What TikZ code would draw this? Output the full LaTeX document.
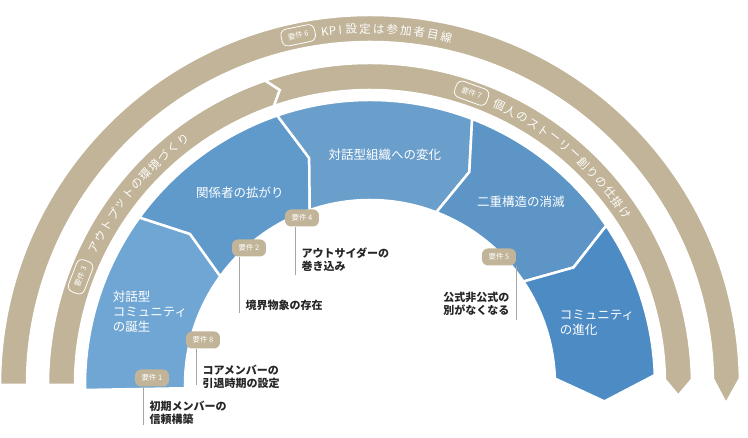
\documentclass[tikz,border=0pt]{standalone}
\usepackage{fontspec}
\setmainfont{Noto Sans CJK JP}
\definecolor{tan}{HTML}{C1B498}
\definecolor{blueA}{HTML}{6FA6D3}
\definecolor{blueB}{HTML}{5F9ACB}
\definecolor{blueC}{HTML}{6A9FCC}
\definecolor{blueD}{HTML}{5C95C6}
\definecolor{blueE}{HTML}{4D8BC4}
% ring piece: #1 colour, #2/#3 inner/outer radius, #4 start angle, #5 start tip, #6 end angle, #7 end tip
\newcommand{\ringpiece}[7]{%
  \pgfmathsetmacro{\rmid}{(#2+#3)/2}
  \fill[#1, draw=white, line width=2.5pt, line join=miter]
    (#4:#3) arc (#4:#6:#3) -- (#7:\rmid) -- (#6:#2) arc (#6:#4:#2) -- (#5:\rmid) -- cycle;}
% text along a band: #1 radius, #2 start angle, #3 step, #4 characters
\newcommand{\bandlabel}[4]{%
  \foreach \ch [count=\i from 0] in {#4}{
    \pgfmathsetmacro{\ang}{#2-\i*#3}
    \node[bandchar, rotate=\ang-90] at (\ang:#1) {\ch};
  }}
\begin{document}
\begin{tikzpicture}[x=1pt, y=1pt]
  \tikzset{
    segtext/.style={text=white, font=\fontsize{12.5}{15}\selectfont, align=left},
    badge/.style={fill=tan, rounded corners=6pt, minimum width=34pt, minimum height=17pt, inner sep=1pt, text=white, font=\fontsize{7.5}{8}\selectfont},
    bandbadge/.style={badge, draw=white, thick},
    bandchar/.style={text=white, font=\fontsize{11.5}{11.5}\selectfont, inner sep=0pt},
    note/.style={font=\fontsize{11}{13}\selectfont\bfseries, align=left, text=black!85},
    leader/.style={gray!70, thin}
  }
  \useasboundingbox (-370,-53) rectangle (378,385);

  % tan bands
  \ringpiece{tan}{343}{370}{180}{180}{1}{-3}
  \ringpiece{tan}{295}{322}{180}{180}{109}{107}
  \ringpiece{tan}{295}{322}{109}{107}{1}{-2}

  % blue ring
  \ringpiece{blueA}{185}{285}{181}{181}{144}{140}
  \ringpiece{blueB}{185}{285}{144}{140}{109}{105}
  \ringpiece{blueC}{185}{285}{109}{105}{69}{65}
  \ringpiece{blueD}{185}{285}{69}{65}{34}{30}
  \ringpiece{blueE}{185}{285}{34}{30}{2}{-4}

  % band labels
  \node[bandbadge, rotate=11.6] (r6) at (101.6:357) {要件 6};
  \bandlabel{356}{97.3}{1.25}{K,P,I}
  \bandlabel{356}{93.0}{2.2}{設,定,は,参,加,者,目,線}
  \node[bandbadge, rotate=69] (r3) at (159.5:309) {要件 3};
  \bandlabel{308}{153.6}{2.4}{ア,ウ,ト,プ,ッ,ト,の,環,境,づ,く,り}
  \node[bandbadge, rotate=-20] (r7) at (70.8:309) {要件 7};
  \bandlabel{308}{65.2}{2.4}{個,人,の,ス,ト,ー,リ,ー,創,り,の,仕,掛,け}

  % stage names
  \node[segtext] (s1) at (-220,73) {対話型\\コミュニティ\\の誕生};
  \node[segtext] (s2) at (-130,192) {関係者の拡がり};
  \node[segtext] (s3) at (15,230) {対話型組織への変化};
  \node[segtext] (s4) at (151,183) {二重構造の消滅};
  \node[segtext] (s5) at (227,62) {コミュニティ\\の進化};

  % requirement badges and notes
  \node[badge] (r1) at (-218,7) {要件 1};
  \node[badge] (r8) at (-167,45) {要件 8};
  \node[badge] (r2) at (-121,137) {要件 2};
  \node[badge] (r4) at (-68,167) {要件 4};
  \node[badge] (r5) at (129,128) {要件 5};

  \coordinate (l1) at (-227,-40);
  \coordinate (l8) at (-174,0);
  \coordinate (l2) at (-131,72);
  \coordinate (l4) at (-75,110);
  \coordinate (l5) at (146,65);
  \draw[leader] (r1.south -| l1) -- (l1);
  \draw[leader] (r8.south -| l8) -- (l8);
  \draw[leader] (r2.south -| l2) -- (l2);
  \draw[leader] (r4.south -| l4) -- (l4);
  \draw[leader] (r5.south -| l5) -- (l5);

  \node[note, anchor=north west] (n1) at (-224,-13) {初期メンバーの\\信頼構築};
  \node[note, anchor=north west] (n8) at (-171,23) {コアメンバーの\\引退時期の設定};
  \node[note, anchor=north west] (n2) at (-128,88) {境界物象の存在};
  \node[note, anchor=north west] (n4) at (-72,141) {アウトサイダーの\\巻き込み};
  \node[note, anchor=north east, align=right] (n5) at (143,96) {公式非公式の\\別がなくなる};
\end{tikzpicture}
\end{document}
